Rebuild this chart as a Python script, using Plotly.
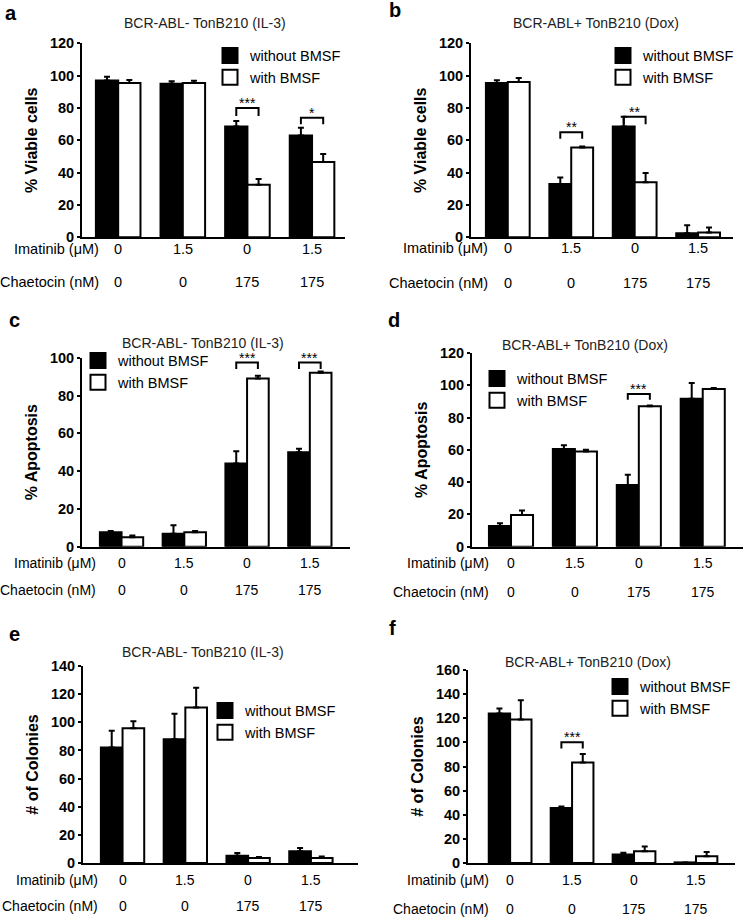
import plotly.graph_objects as go

W, H = 746, 917

# ---------------- data ----------------
imatinib = ["0", "1.5", "0", "1.5"]
chaetocin = ["0", "0", "175", "175"]
series_names = ["without BMSF", "with BMSF"]

a_without = [97, 95, 68.5, 63]
a_without_err = [2.3, 1.6, 3.5, 4.7]
a_with = [95.5, 95.5, 32.5, 46.5]
a_with_err = [1.8, 1.4, 3.5, 5]
a_sig = [(2, "***", 80, 75), (3, "*", 74, 70)]

b_without = [95.5, 33, 68.5, 2.5]
b_without_err = [1.6, 4, 6, 5]
b_with = [96, 55.5, 34, 3]
b_with_err = [2.5, 0.6, 5.7, 3]
b_sig = [(1, "**", 65, 61), (2, "**", 74.5, 70)]

c_without = [7.6, 6.8, 44, 50]
c_without_err = [0.7, 4.6, 6.5, 1.8]
c_with = [5, 7.6, 89, 92]
c_with_err = [0.9, 0.7, 1.5, 0.7]
c_sig = [(2, "***", 97.4, 94), (3, "***", 97.4, 94)]

d_without = [12.8, 60.5, 38.3, 91.7]
d_without_err = [1.7, 2.3, 6.2, 9.7]
d_with = [19.7, 59, 87, 97.7]
d_with_err = [2.7, 1, 0.4, 0.6]
d_sig = [(2, "***", 94.6, 91)]

e_without = [82, 88, 5.2, 8.3]
e_without_err = [12, 18, 1.9, 2.4]
e_with = [95.7, 110.5, 3.5, 3.5]
e_with_err = [5, 14, 0.7, 1.2]
e_sig = []

f_without = [124, 45.5, 7, 0.5]
f_without_err = [4, 1.4, 1.4, 0]
f_with = [119, 83.3, 9.7, 5.5]
f_with_err = [16, 7, 4, 3.6]
f_sig = [(1, "***", 100, 95)]

title_il3 = "BCR-ABL- TonB210 (IL-3)"
title_dox = "BCR-ABL+ TonB210 (Dox)"

# ---------------- layout per panel (pixels) ----------------
panels = [
    dict(letter="a", title=title_il3, ytitle="% Viable cells", yr=[0, 120], xr=[-0.56, 3.51],
         dx=(82, 345), dy=(43.3, 237.3), wo=a_without, woe=a_without_err, wi=a_with, wie=a_with_err,
         sig=a_sig, lab=(3, 13), tit=(205, 23), leg=(250, 54.5), rows=(249, 282), rowx=101, rfs=14.5),
    dict(letter="b", title=title_dox, ytitle="% Viable cells", yr=[0, 120], xr=[-0.58, 3.55],
         dx=(471, 733), dy=(43.3, 237.3), wo=b_without, woe=b_without_err, wi=b_with, wie=b_with_err,
         sig=b_sig, lab=(387, 10), tit=(596, 23), leg=(643, 54.5), rows=(248, 283), rowx=490, rfs=14.5),
    dict(letter="c", title=title_il3, ytitle="% Apoptosis", yr=[0, 100], xr=[-0.63, 3.64],
         dx=(82, 350), dy=(357.7, 546.7), wo=c_without, woe=c_without_err, wi=c_with, wie=c_with_err,
         sig=c_sig, lab=(7, 320), tit=(203, 343), leg=(118, 359.5), rows=(563, 590), rowx=98, rfs=14),
    dict(letter="d", title=title_dox, ytitle="% Apoptosis", yr=[0, 120], xr=[-0.61, 3.63],
         dx=(472, 743), dy=(353, 546.7), wo=d_without, woe=d_without_err, wi=d_with, wie=d_with_err,
         sig=d_sig, lab=(386, 320), tit=(585, 345), leg=(517, 377.5), rows=(563, 592), rowx=491, rfs=14),
    dict(letter="e", title=title_il3, ytitle="# of Colonies", yr=[0, 140], xr=[-0.63, 3.75],
         dx=(83, 358), dy=(666, 863), wo=e_without, woe=e_without_err, wi=e_with, wie=e_with_err,
         sig=e_sig, lab=(7, 634), tit=(203, 652), leg=(245, 709.5), rows=(880, 906), rowx=100, rfs=14),
    dict(letter="f", title=title_dox, ytitle="# of Colonies", yr=[0, 160], xr=[-0.68, 3.63],
         dx=(468, 735), dy=(670, 863), wo=f_without, woe=f_without_err, wi=f_with, wie=f_with_err,
         sig=f_sig, lab=(387, 628), tit=(588, 662), leg=(640, 685.5), rows=(880, 909), rowx=491, rfs=14),
]

FONT = "Liberation Sans, Arial, sans-serif"


def px(x):
    return x / W


def py(y):
    return 1 - y / H


fig = go.Figure()
annotations = []
layout_extra = {}
positions = list(range(len(imatinib)))
half = 0.1725

for k, p in enumerate(panels):
    n = "" if k == 0 else str(k + 1)
    xa, ya = "x" + n, "y" + n
    lg = "legend" + n
    for name, vals, errs, fill in [(series_names[0], p["wo"], p["woe"], "black"),
                                   (series_names[1], p["wi"], p["wie"], "white")]:
        fig.add_trace(go.Bar(
            x=positions, y=vals, name=name, xaxis=xa, yaxis=ya, showlegend=False,
            marker=dict(color=fill, line=dict(color="black", width=2)),
            error_y=dict(type="data", array=errs, arrayminus=[0] * len(errs), symmetric=False,
                         color="black", thickness=2, width=3),
        ))
        # legend key (square swatch matching the bar style)
        fig.add_trace(go.Scatter(
            x=[None], y=[None], name=name, xaxis=xa, yaxis=ya, legend=lg, mode="markers",
            marker=dict(symbol="square", size=15, color=fill, line=dict(color="black", width=2)),
            hoverinfo="skip",
        ))
    for gi, stars, ytop, yleg in p["sig"]:
        fig.add_trace(go.Scatter(
            x=[gi - half, gi - half, gi + half, gi + half], y=[yleg, ytop, ytop, yleg],
            mode="lines", line=dict(color="black", width=2), showlegend=False,
            xaxis=xa, yaxis=ya, hoverinfo="skip",
        ))
        annotations.append(dict(x=gi, y=ytop, xref=xa, yref=ya, text=stars, showarrow=False,
                                xanchor="center", yanchor="bottom", yshift=-5,
                                font=dict(family=FONT, size=14, color="black")))

    layout_extra["xaxis" + n] = dict(
        domain=[px(p["dx"][0]), px(p["dx"][1])], range=p["xr"], anchor=ya,
        showticklabels=False, ticks="", showgrid=False, zeroline=False, automargin=False,
        showline=True, linecolor="black", linewidth=2, fixedrange=True,
    )
    layout_extra["yaxis" + n] = dict(
        domain=[py(p["dy"][1]), py(p["dy"][0])], range=p["yr"], dtick=20, anchor=xa,
        showgrid=False, zeroline=False, showline=True, linecolor="black", linewidth=2,
        ticks="outside", ticklen=3, tickwidth=1.5, tickcolor="black", automargin=False,
        tickfont=dict(family=FONT, size=14.5, color="black", weight="bold"),
        title=dict(text=p["ytitle"], font=dict(family=FONT, size=16, color="black", weight="bold"),
                   standoff=8),
    )
    layout_extra[lg] = dict(
        x=px(p["leg"][0] - 40), y=py(p["leg"][1] - 15), xanchor="left", yanchor="top",
        bgcolor="rgba(0,0,0,0)", font=dict(family=FONT, size=14.5, color="black"),
        tracegroupgap=0, itemclick=False, itemdoubleclick=False,
    )
    # panel letter
    annotations.append(dict(x=px(p["lab"][0]), y=py(p["lab"][1]), xref="paper", yref="paper",
                            text="<b>" + p["letter"] + "</b>", showarrow=False,
                            xanchor="left", yanchor="middle",
                            font=dict(family=FONT, size=20, color="black")))
    # panel title
    annotations.append(dict(x=px(p["tit"][0]), y=py(p["tit"][1]), xref="paper", yref="paper",
                            text=p["title"], showarrow=False, xanchor="center", yanchor="middle",
                            font=dict(family=FONT, size=14, color="#222")))
    # condition rows
    for rlabel, rvals, ry in [("Imatinib (μM)", imatinib, p["rows"][0]),
                              ("Chaetocin (nM)", chaetocin, p["rows"][1])]:
        annotations.append(dict(x=px(p["rowx"]), y=py(ry), xref="paper", yref="paper",
                                text=rlabel, showarrow=False, xanchor="right", yanchor="middle",
                                font=dict(family=FONT, size=p["rfs"], color="black")))
        for gi, v in zip(positions, rvals):
            annotations.append(dict(x=gi, y=py(ry), xref=xa, yref="paper", text=v,
                                    showarrow=False, xanchor="center", yanchor="middle",
                                    font=dict(family=FONT, size=p["rfs"], color="black")))

fig.update_layout(
    width=W, height=H, margin=dict(l=0, r=0, t=0, b=0, pad=0, autoexpand=False),
    paper_bgcolor="white", plot_bgcolor="white",
    barmode="group", bargap=0.31, bargroupgap=0,
    font=dict(family=FONT, color="black"),
    annotations=annotations,
    **layout_extra,
)

fig.write_html("out.html", config={"displayModeBar": False},
               post_script="document.body.style.margin='0';document.body.style.overflow='hidden';")
